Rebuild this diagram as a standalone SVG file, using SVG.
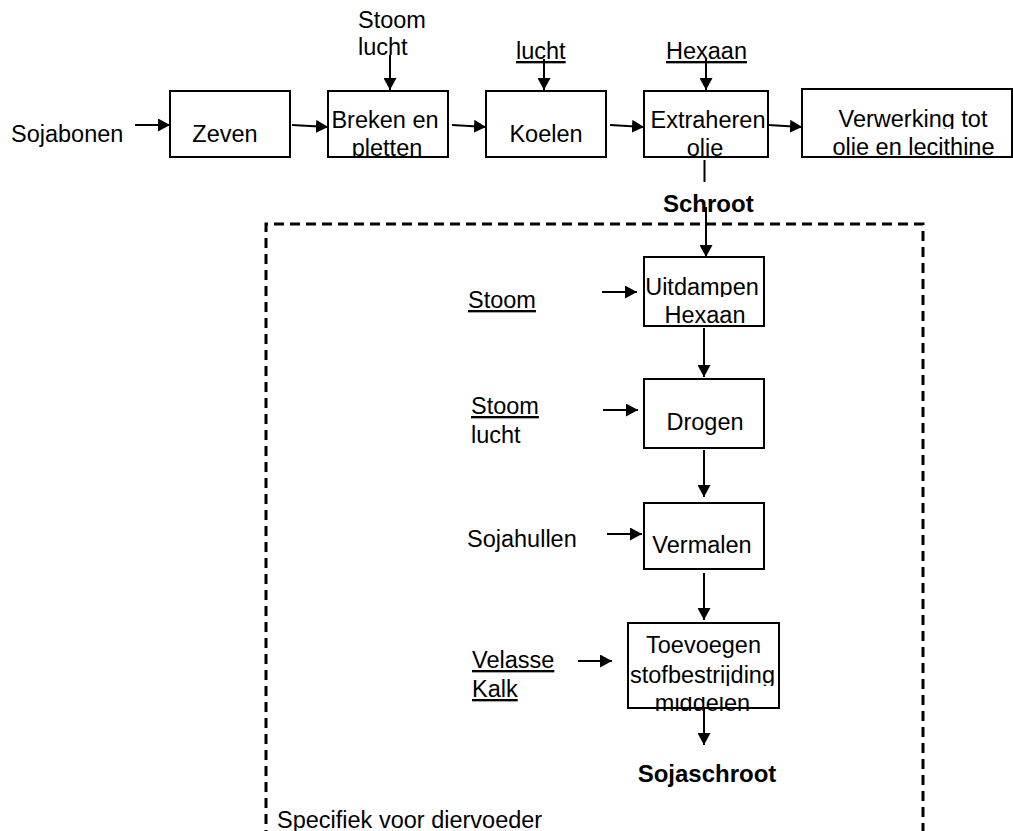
<svg xmlns="http://www.w3.org/2000/svg" width="1013" height="831" viewBox="0 0 1013 831">
<style>
text{font-family:"Liberation Sans",Arial,sans-serif;font-size:23.5px;fill:#000}
.b{font-weight:bold;font-size:24px}
.u{text-decoration:underline}
.m{text-anchor:middle}
.box{fill:#fff;stroke:#000;stroke-width:2}
.c{stroke:#000;stroke-width:2;fill:none}
.a{marker-end:url(#ah)}
.dash{fill:none;stroke:#000;stroke-width:3;stroke-dasharray:10 6}
</style>
<defs>
<marker id="ah" markerUnits="userSpaceOnUse" markerWidth="12" markerHeight="13" refX="12" refY="6.5" orient="auto"><path d="M0,0L12,6.5L0,13z" fill="#000"/></marker>
<clipPath id="cBreken"><rect x="328" y="90" width="120" height="67"/></clipPath>
<clipPath id="cExtr"><rect x="644" y="90" width="124" height="67"/></clipPath>
<clipPath id="cVerw1"><rect x="802" y="90" width="210" height="39"/></clipPath>
<clipPath id="cVerw2"><rect x="802" y="129" width="210" height="28"/></clipPath>
<clipPath id="cUit1"><rect x="644" y="257" width="120" height="40"/></clipPath>
<clipPath id="cUit2"><rect x="644" y="297" width="120" height="29"/></clipPath>
<clipPath id="cToe2"><rect x="600" y="660" width="200" height="26"/></clipPath>
<clipPath id="cToe3"><rect x="600" y="697" width="200" height="22"/></clipPath>
</defs>

<g id="scope">
<path class="dash" d="M266,840V224H923V840"/>
<text x="277" y="828">Specifiek voor diervoeder</text>
</g>

<g id="connectors">
<line class="c a" x1="135" y1="125" x2="170" y2="125"/>
<line class="c a" x1="292" y1="125" x2="328" y2="127"/>
<line class="c a" x1="452" y1="125" x2="486" y2="127"/>
<line class="c a" x1="610" y1="125" x2="644" y2="127"/>
<line class="c a" x1="768" y1="125" x2="802" y2="127"/>
<line class="c a" x1="390" y1="55" x2="390" y2="90"/>
<line class="c a" x1="544" y1="59" x2="544" y2="90"/>
<line class="c a" x1="706" y1="59" x2="706" y2="90"/>
<line class="c" x1="704.5" y1="160" x2="704.5" y2="182"/>
<line class="c a" x1="706" y1="207" x2="706" y2="257"/>
<line class="c a" x1="602" y1="292" x2="637" y2="292"/>
<line class="c a" x1="704" y1="328" x2="704" y2="377"/>
<line class="c a" x1="603" y1="410" x2="638" y2="410"/>
<line class="c a" x1="704" y1="450" x2="704" y2="497"/>
<line class="c a" x1="607" y1="534" x2="642" y2="534"/>
<line class="c a" x1="704" y1="573" x2="704" y2="620"/>
<line class="c a" x1="578" y1="661" x2="612" y2="661"/>
<line class="c a" x1="704" y1="708" x2="704" y2="745"/>
</g>

<g id="in-sojabonen"><text x="11" y="142">Sojabonen</text></g>
<g id="in-stoom-lucht-1"><text x="358" y="28">Stoom</text><text x="358" y="55">lucht</text></g>
<g id="in-lucht-2"><text class="u" x="516" y="59">lucht</text></g>
<g id="in-hexaan"><text class="u" x="666" y="59">Hexaan</text></g>

<g id="zeven"><rect class="box" x="170" y="91" width="120" height="66"/><text class="m" x="225" y="142">Zeven</text></g>
<g id="breken"><rect class="box" x="328" y="91" width="120" height="66"/>
<g clip-path="url(#cBreken)"><text class="m" x="385" y="128">Breken en</text><text class="m" x="387" y="156">pletten</text></g></g>
<g id="koelen"><rect class="box" x="486" y="91" width="120" height="66"/><text class="m" x="546" y="142">Koelen</text></g>
<g id="extraheren"><rect class="box" x="644" y="91" width="124" height="66"/>
<g clip-path="url(#cExtr)"><text class="m" x="708" y="128">Extraheren</text><text class="m" x="705" y="156">olie</text></g></g>
<g id="verwerking"><rect class="box" x="802" y="89" width="210" height="68"/>
<text class="m" x="913" y="127" clip-path="url(#cVerw1)">Verwerking tot</text>
<text class="m" x="913.5" y="155" clip-path="url(#cVerw2)">olie en lecithine</text></g>

<g id="schroot"><text class="b" x="663" y="212">Schroot</text></g>

<g id="in-stoom-2"><text class="u" x="468" y="308">Stoom</text></g>
<g id="uitdampen"><rect class="box" x="644" y="257" width="120" height="69"/>
<text class="m" x="702" y="295" clip-path="url(#cUit1)">Uitdampen</text>
<text class="m" x="705" y="323" clip-path="url(#cUit2)">Hexaan</text></g>

<g id="in-stoom-lucht-3"><text class="u" x="471" y="414">Stoom</text><text x="471" y="443">lucht</text></g>
<g id="drogen"><rect class="box" x="644" y="379" width="120" height="69"/><text class="m" x="705" y="430">Drogen</text></g>

<g id="in-sojahullen"><text x="467" y="547">Sojahullen</text></g>
<g id="vermalen"><rect class="box" x="644" y="503" width="120" height="66"/><text class="m" x="702" y="553">Vermalen</text></g>

<g id="in-velasse-kalk"><text class="u" x="472" y="668">Velasse</text><text class="u" x="472" y="697">Kalk</text></g>
<g id="toevoegen"><rect class="box" x="628" y="623" width="151" height="85"/>
<text class="m" x="703.5" y="653">Toevoegen</text>
<text class="m" x="702.5" y="683" clip-path="url(#cToe2)">stofbestrijding</text>
<text class="m" x="702.5" y="711" clip-path="url(#cToe3)">middelen</text></g>

<g id="sojaschroot"><text class="b m" x="707" y="782">Sojaschroot</text></g>
</svg>
